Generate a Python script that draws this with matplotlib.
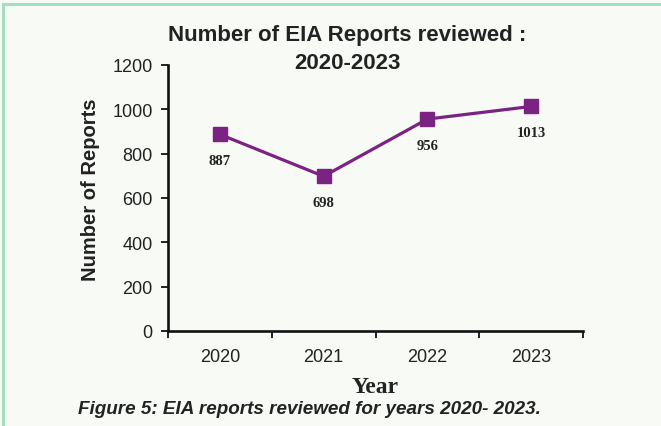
import matplotlib.pyplot as plt
from matplotlib.patches import Rectangle

years = ['2020', '2021', '2022', '2023']
reports = [887, 698, 956, 1013]
y_ticks = [0, 200, 400, 600, 800, 1000, 1200]

bg = '#f8faf6'
purple = '#7a2382'
ink = '#222222'

fig = plt.figure(figsize=(6.61, 4.27), dpi=100, facecolor=bg)
# green frame on the top and left edges
fig.patches.append(Rectangle((3 / 661, -0.1), 1.2, (1 - 5 / 427) + 0.1, transform=fig.transFigure,
                             fill=False, edgecolor='#a6dcbf', linewidth=2.2))

ax = fig.add_axes([168 / 661, 95 / 427, (583 - 168) / 661, (333 - 67) / 427])
ax.set_facecolor(bg)

x = list(range(len(years)))
ax.plot(x, reports, color=purple, lw=2.3, marker='s', markersize=10.5,
        markerfacecolor=purple, markeredgecolor=purple, zorder=3)
for xi, v in zip(x, reports):
    ax.annotate(str(v), (xi, v), xytext=(0, -19), textcoords='offset points',
                ha='center', va='center', fontsize=10.5, fontweight='bold',
                family='Liberation Serif', color=ink)

ax.set_xlim(-0.5, len(years) - 0.5)
ax.set_ylim(0, 1200)
ax.set_yticks(y_ticks)
ax.set_yticklabels([str(t) for t in y_ticks], fontsize=13, family='Liberation Sans', color=ink)

# category boundaries carry the tick marks, labels sit between them
ax.set_xticks([i - 0.5 for i in range(len(years) + 1)])
ax.set_xticklabels([])
ax.set_xticks(x, minor=True)
ax.set_xticklabels(years, minor=True, fontsize=13, family='Liberation Sans', color=ink)
ax.tick_params(axis='x', which='major', length=5, width=1.3, color='#111111', direction='out')
ax.tick_params(axis='x', which='minor', length=0, pad=12)
ax.tick_params(axis='y', length=5, width=1.3, color='#111111', direction='out', pad=6)

for side in ['top', 'right']:
    ax.spines[side].set_visible(False)
for side in ['left', 'bottom']:
    ax.spines[side].set_linewidth(1.9)
    ax.spines[side].set_color('#111111')

ax.set_ylabel('Number of Reports', fontsize=14.5, fontweight='bold', family='Liberation Sans',
              color=ink)
ax.yaxis.set_label_coords(-0.164, 0.535)
ax.set_xlabel('Year', fontsize=17, fontweight='bold', family='Liberation Serif',
              color=ink, labelpad=8)

fig.text(347 / 661, 1 - 36 / 427, 'Number of EIA Reports reviewed :', ha='center', va='center',
         fontsize=16, fontweight='bold', family='Liberation Sans', color=ink)
fig.text(347 / 661, 1 - 64 / 427, '2020-2023', ha='center', va='center',
         fontsize=16, fontweight='bold', family='Liberation Sans', color=ink)
fig.text(78 / 661, 1 - 410 / 427, 'Figure 5: EIA reports reviewed for years 2020- 2023.',
         ha='left', va='center', fontsize=13.6, fontweight='bold', style='italic',
         family='Liberation Sans', color=ink)

fig.savefig('out.png', dpi=100, facecolor=bg)
